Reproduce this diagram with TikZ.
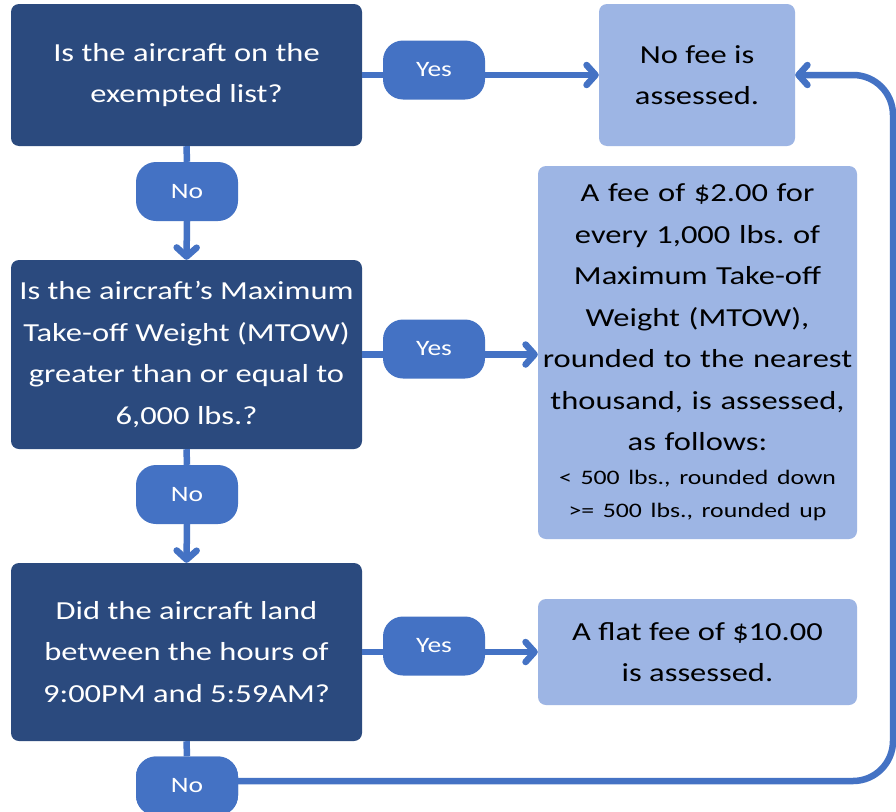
\documentclass[tikz,border=0pt]{standalone}
\usepackage{fontspec}
\setmainfont{Carlito}[FakeStretch=1.25]
\usetikzlibrary{arrows.meta}
\definecolor{darkbox}{HTML}{2B4A7E}
\definecolor{pillc}{HTML}{4472C4}
\definecolor{lightbox}{HTML}{9DB5E4}
\frenchspacing
\begin{document}
\begin{tikzpicture}[x=1pt,y=-1pt,
  qbox/.style={fill=darkbox, rounded corners=8pt, text=white, minimum width=351pt, align=center, font=\fontsize{26}{41.5}\selectfont, inner sep=0pt},
  abox/.style={fill=lightbox, rounded corners=8pt, text=black, align=center, font=\fontsize{26}{41.5}\selectfont, inner sep=0pt},
  pill/.style={fill=pillc, rounded corners=20pt, text=white, minimum width=102pt, minimum height=59pt, inner sep=0pt, font=\fontsize{22}{26}\selectfont},
  conn/.style={draw=pillc, line width=6.5pt},
  arr/.style={conn, -{Straight Barb[length=9pt, width=20pt, line cap=round, line join=round]}}
]
\clip (0,0) rectangle (896,811);
\fill[white] (0,0) rectangle (896,811);

\node[qbox, minimum height=142pt] (q1) at (186.5,75) {Is the aircraft on the\\exempted list?};
\node[qbox, minimum height=189pt] (q2) at (186.5,354.5) {Is the aircraft’s Maximum\\Take-off Weight (MTOW)\\greater than or equal to\\6,000 lbs.?};
\node[qbox, minimum height=178pt] (q3) at (186.5,652) {Did the aircraft land\\between the hours of\\9:00PM and 5:59AM?};

\node[abox, minimum width=196pt, minimum height=142pt] (nofee) at (697,75) {No fee is\\assessed.};
\node[abox, minimum width=319pt, minimum height=373pt, text width=319pt] (fee) at (697.5,352.5) {A fee of \$2.00 for\\every 1,000 lbs.\ of\\Maximum Take-off\\Weight (MTOW),\\rounded to the nearest\\thousand, is assessed,\\as follows:\par\vspace{1pt}\fontsize{20.6}{33}\selectfont <~500 lbs., rounded down\\>= 500 lbs., rounded up\par};
\node[abox, minimum width=319pt, minimum height=106pt] (flat) at (697.5,652) {A flat fee of \$10.00\\is assessed.};

\node[pill] (y1) at (434,70) {Yes};
\node[pill] (y2) at (434,349) {Yes};
\node[pill] (y3) at (434,646) {Yes};
\node[pill] (n1) at (187,191.5) {No};
\node[pill] (n2) at (187,494.5) {No};
\node[pill] (n3) at (187,786) {No};

\coordinate (c1) at (893,781);
\coordinate (c2) at (893,75);
\coordinate (s3) at (238,781);

% Yes branches
\draw[conn] (q1.east) -- (q1.east -| y1.west);
\draw[arr] (y1.east |- q1.east) -- (nofee.west);
\draw[conn] (q2.east) -- (q2.east -| y2.west);
\draw[arr] (y2.east |- q2.east) -- (q2.east -| fee.west);
\draw[conn] (q3.east) -- (q3.east -| y3.west);
\draw[arr] (y3.east |- q3.east) -- (flat.west);

% No branches
\draw[conn] (q1.south) -- (n1.north);
\draw[arr] (n1.south) -- (q2.north);
\draw[conn] (q2.south) -- (n2.north);
\draw[arr] (n2.south) -- (q3.north);
\draw[conn] (q3.south) -- (n3.north);
\draw[arr, rounded corners=40pt] (s3) -- (c1) -- (c2) -- (nofee.east);
\node[pill] at (n3) {No};
\end{tikzpicture}
\end{document}
